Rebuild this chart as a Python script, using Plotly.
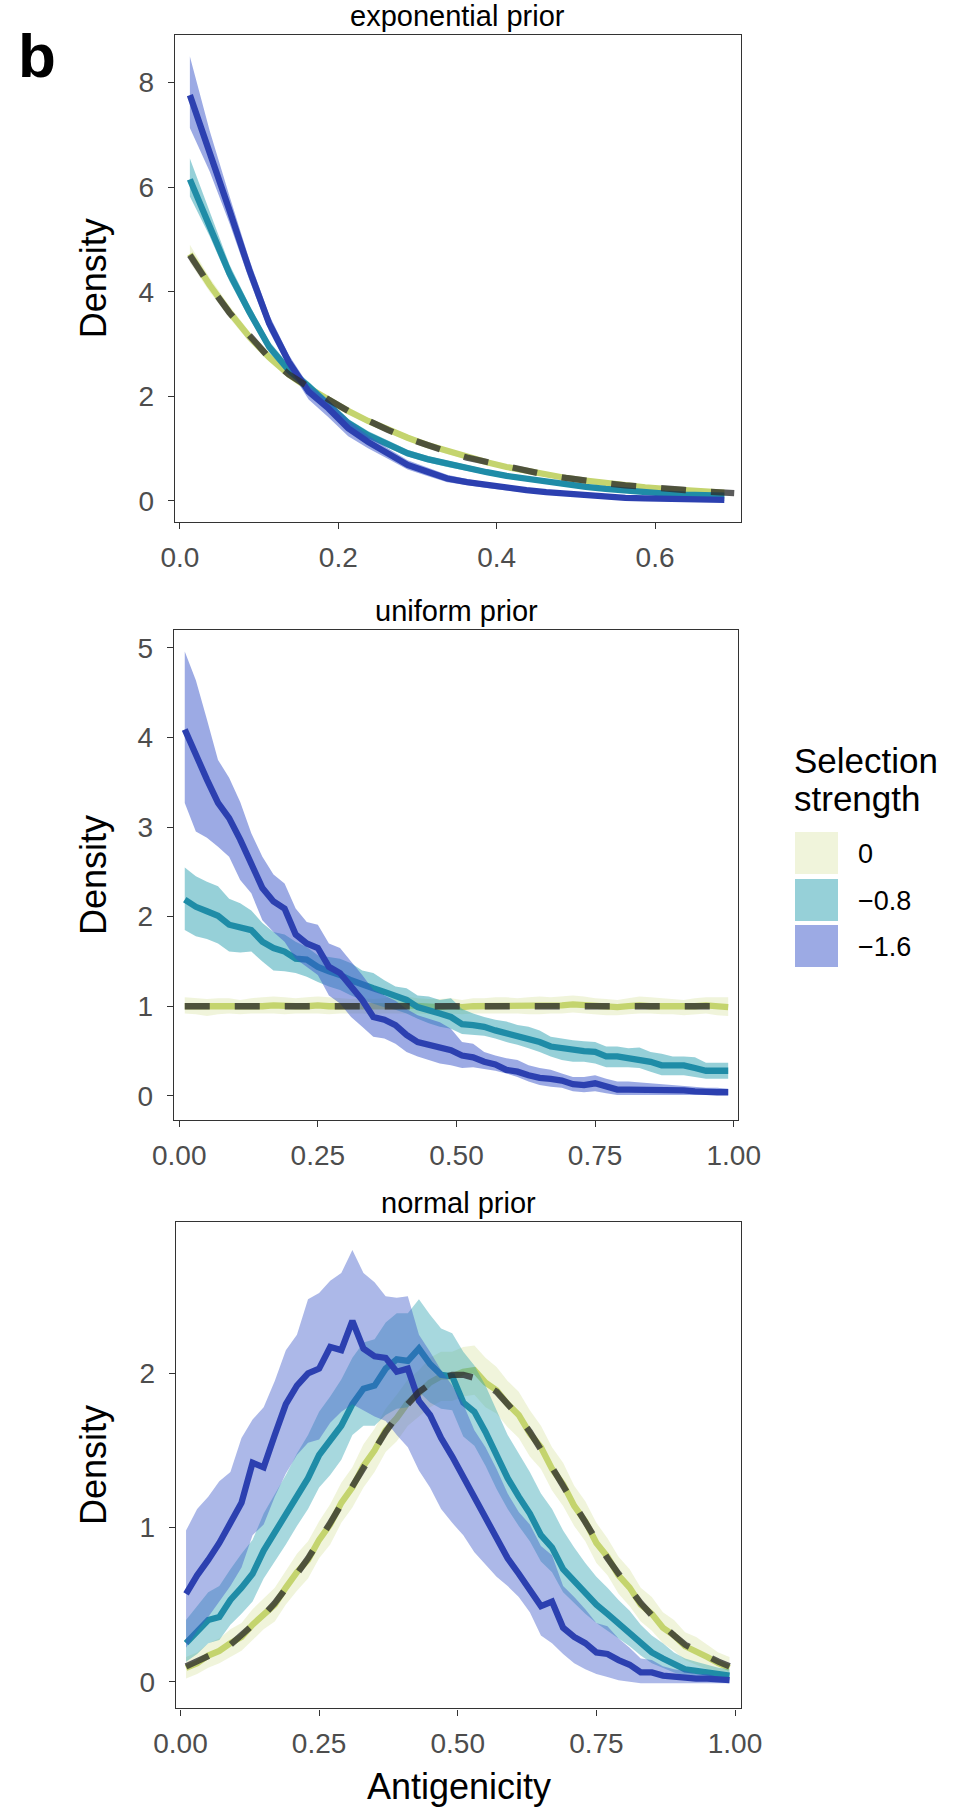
import plotly.graph_objects as go

W, H = 958, 1811
FONT = "Liberation Sans, Arial, Helvetica, sans-serif"

# ---------------- exponential prior ----------------
X_EXP = [0.0125, 0.0375, 0.0625, 0.0875, 0.1125, 0.1375, 0.1625, 0.1875, 0.2125, 0.2375,
         0.2625, 0.2875, 0.3125, 0.3375, 0.3625, 0.3875, 0.4125, 0.4375, 0.4625, 0.4875,
         0.5125, 0.5375, 0.5625, 0.5875, 0.6125, 0.6375, 0.6625, 0.6875]

EXP_S0_MEAN = [4.72, 4.13, 3.61, 3.14, 2.75, 2.42, 2.16, 1.93, 1.72, 1.53, 1.36, 1.21, 1.07, 0.95,
               0.84, 0.74, 0.65, 0.57, 0.50, 0.44, 0.39, 0.34, 0.30, 0.26, 0.23, 0.21, 0.18, 0.16]
EXP_S0_HI = [4.90, 4.27, 3.73, 3.24, 2.84, 2.50, 2.24, 2.00, 1.79, 1.59, 1.42, 1.27, 1.12, 1.00,
             0.89, 0.79, 0.69, 0.61, 0.54, 0.48, 0.43, 0.37, 0.33, 0.29, 0.26, 0.24, 0.21, 0.19]
EXP_S0_LO = [4.56, 4.00, 3.50, 3.04, 2.66, 2.34, 2.08, 1.86, 1.65, 1.47, 1.30, 1.15, 1.02, 0.90,
             0.79, 0.69, 0.61, 0.53, 0.46, 0.40, 0.35, 0.31, 0.27, 0.23, 0.20, 0.18, 0.15, 0.13]

EXP_S08_MEAN = [6.15, 5.28, 4.35, 3.62, 2.95, 2.50, 2.19, 1.84, 1.49, 1.26, 1.09, 0.91, 0.80, 0.71,
                0.62, 0.55, 0.48, 0.42, 0.37, 0.32, 0.27, 0.23, 0.19, 0.16, 0.14, 0.12, 0.11, 0.10]
EXP_S08_HI = [6.55, 5.53, 4.52, 3.75, 3.06, 2.60, 2.28, 1.93, 1.57, 1.34, 1.16, 0.98, 0.86, 0.77,
              0.68, 0.60, 0.53, 0.47, 0.41, 0.36, 0.31, 0.27, 0.22, 0.19, 0.17, 0.15, 0.14, 0.13]
EXP_S08_LO = [5.82, 5.06, 4.20, 3.50, 2.85, 2.41, 2.10, 1.76, 1.41, 1.19, 1.02, 0.85, 0.74, 0.65,
              0.57, 0.50, 0.43, 0.38, 0.33, 0.28, 0.23, 0.20, 0.16, 0.13, 0.11, 0.09, 0.08, 0.07]

EXP_S16_MEAN = [7.76, 6.68, 5.56, 4.42, 3.40, 2.66, 2.09, 1.77, 1.39, 1.13, 0.91, 0.69, 0.56, 0.43,
                0.36, 0.30, 0.25, 0.21, 0.17, 0.14, 0.10, 0.08, 0.06, 0.05, 0.05, 0.04, 0.03, 0.02]
EXP_S16_HI = [8.50, 7.08, 5.83, 4.62, 3.56, 2.79, 2.21, 1.92, 1.54, 1.25, 1.01, 0.78, 0.64, 0.50,
              0.42, 0.35, 0.30, 0.25, 0.21, 0.18, 0.13, 0.11, 0.09, 0.08, 0.07, 0.06, 0.05, 0.04]
EXP_S16_LO = [7.13, 6.30, 5.31, 4.23, 3.25, 2.54, 1.94, 1.60, 1.24, 1.01, 0.81, 0.60, 0.48, 0.36,
              0.30, 0.25, 0.20, 0.17, 0.13, 0.10, 0.07, 0.05, 0.03, 0.02, 0.03, 0.02, 0.01, 0.00]

EXP_PRIOR_X = X_EXP + [0.70]
EXP_PRIOR_Y = [4.70, 4.12, 3.60, 3.15, 2.74, 2.42, 2.17, 1.94, 1.72, 1.53, 1.36, 1.20, 1.06, 0.94,
               0.83, 0.74, 0.65, 0.56, 0.50, 0.44, 0.38, 0.34, 0.30, 0.26, 0.23, 0.21, 0.18, 0.16, 0.15]

# ---------------- uniform / normal priors (shared bins) ----------------
X_BIN = [0.01, 0.03, 0.05, 0.07, 0.09, 0.11, 0.13, 0.15, 0.17, 0.19, 0.21, 0.23, 0.25, 0.27, 0.29,
         0.31, 0.33, 0.35, 0.37, 0.39, 0.41, 0.43, 0.45, 0.47, 0.49, 0.51, 0.53, 0.55, 0.57, 0.59,
         0.61, 0.63, 0.65, 0.67, 0.69, 0.71, 0.73, 0.75, 0.77, 0.79, 0.81, 0.83, 0.85, 0.87, 0.89,
         0.91, 0.93, 0.95, 0.97, 0.99]

UNI_S0_MEAN = [1.00, 1.00, 0.99, 1.00, 1.00, 0.99, 1.00, 1.00, 1.01, 1.00, 1.00, 1.00, 1.01, 1.00, 1.00,
               1.00, 1.00, 0.99, 1.00, 1.00, 1.01, 1.00, 1.00, 0.99, 1.00, 0.99, 1.00, 1.00, 1.00, 1.01,
               1.00, 1.00, 1.00, 1.01, 1.01, 1.02, 1.01, 1.00, 1.00, 0.99, 1.00, 1.01, 1.00, 1.00, 1.00,
               0.99, 1.00, 1.01, 1.00, 0.99]
UNI_S0_HI = [1.10, 1.09, 1.08, 1.09, 1.09, 1.07, 1.09, 1.10, 1.11, 1.10, 1.09, 1.10, 1.11, 1.10, 1.09,
             1.08, 1.09, 1.08, 1.09, 1.10, 1.11, 1.09, 1.08, 1.08, 1.09, 1.07, 1.09, 1.09, 1.10, 1.10,
             1.09, 1.10, 1.11, 1.10, 1.11, 1.12, 1.11, 1.09, 1.08, 1.07, 1.09, 1.11, 1.10, 1.09, 1.08,
             1.07, 1.09, 1.10, 1.10, 1.10]
UNI_S0_LO = [0.92, 0.91, 0.89, 0.91, 0.92, 0.91, 0.92, 0.92, 0.92, 0.91, 0.92, 0.92, 0.92, 0.91, 0.92,
             0.92, 0.92, 0.91, 0.92, 0.92, 0.92, 0.92, 0.91, 0.91, 0.92, 0.91, 0.92, 0.92, 0.92, 0.92,
             0.92, 0.91, 0.91, 0.92, 0.92, 0.93, 0.92, 0.91, 0.90, 0.90, 0.91, 0.92, 0.92, 0.91, 0.91,
             0.90, 0.91, 0.92, 0.90, 0.89]

UNI_S08_MEAN = [2.19, 2.11, 2.06, 2.01, 1.91, 1.88, 1.85, 1.72, 1.65, 1.61, 1.53, 1.52, 1.44, 1.39, 1.35,
                1.29, 1.24, 1.20, 1.16, 1.11, 1.07, 0.99, 0.96, 0.92, 0.88, 0.80, 0.79, 0.77, 0.73, 0.70,
                0.66, 0.64, 0.60, 0.55, 0.53, 0.51, 0.50, 0.49, 0.44, 0.44, 0.42, 0.41, 0.38, 0.34, 0.34,
                0.34, 0.31, 0.28, 0.28, 0.28]
UNI_S08_HI = [2.55, 2.45, 2.39, 2.34, 2.20, 2.15, 2.07, 1.93, 1.83, 1.80, 1.72, 1.66, 1.57, 1.55, 1.53,
              1.48, 1.40, 1.37, 1.29, 1.22, 1.20, 1.12, 1.11, 1.07, 1.09, 0.97, 0.92, 0.88, 0.85, 0.83,
              0.79, 0.77, 0.73, 0.66, 0.64, 0.62, 0.61, 0.60, 0.55, 0.55, 0.53, 0.54, 0.49, 0.47, 0.44,
              0.44, 0.43, 0.37, 0.37, 0.37]
UNI_S08_LO = [1.85, 1.78, 1.75, 1.70, 1.61, 1.60, 1.61, 1.50, 1.40, 1.39, 1.37, 1.33, 1.27, 1.22, 1.18,
              1.12, 1.07, 1.03, 0.99, 0.96, 0.92, 0.86, 0.81, 0.77, 0.75, 0.69, 0.68, 0.67, 0.64, 0.60,
              0.57, 0.53, 0.49, 0.44, 0.40, 0.38, 0.38, 0.36, 0.32, 0.32, 0.32, 0.31, 0.27, 0.23, 0.23,
              0.23, 0.21, 0.19, 0.19, 0.19]

UNI_S16_MEAN = [4.09, 3.79, 3.53, 3.27, 3.10, 2.86, 2.60, 2.32, 2.17, 2.09, 1.80, 1.70, 1.65, 1.44, 1.37,
                1.22, 1.07, 0.88, 0.85, 0.79, 0.68, 0.60, 0.57, 0.53, 0.51, 0.45, 0.43, 0.38, 0.35, 0.29,
                0.27, 0.23, 0.20, 0.19, 0.17, 0.13, 0.12, 0.14, 0.11, 0.07, 0.07, 0.07, 0.07, 0.06, 0.06,
                0.06, 0.05, 0.04, 0.04, 0.04]
UNI_S16_HI = [4.96, 4.64, 4.20, 3.75, 3.55, 3.28, 2.93, 2.67, 2.47, 2.37, 2.09, 1.94, 1.91, 1.70, 1.65,
              1.50, 1.35, 1.18, 1.12, 1.06, 0.97, 0.90, 0.86, 0.82, 0.75, 0.60, 0.58, 0.49, 0.45, 0.42,
              0.40, 0.34, 0.31, 0.29, 0.25, 0.21, 0.21, 0.23, 0.19, 0.16, 0.16, 0.15, 0.14, 0.13, 0.12,
              0.11, 0.10, 0.09, 0.09, 0.08]
UNI_S16_LO = [3.27, 2.95, 2.88, 2.78, 2.67, 2.41, 2.26, 1.96, 1.83, 1.72, 1.53, 1.44, 1.35, 1.12, 1.03,
              0.88, 0.77, 0.66, 0.64, 0.58, 0.49, 0.44, 0.40, 0.36, 0.34, 0.31, 0.32, 0.30, 0.28, 0.25,
              0.21, 0.16, 0.12, 0.10, 0.09, 0.05, 0.04, 0.05, 0.03, 0.01, 0.01, 0.01, 0.01, 0.01, 0.01,
              0.01, 0.01, 0.01, 0.01, 0.01]

UNI_PRIOR_X = [0.01, 0.99]
UNI_PRIOR_Y = [1.0, 1.0]

NOR_S0_MEAN = [0.09, 0.12, 0.17, 0.20, 0.25, 0.29, 0.37, 0.44, 0.50, 0.61, 0.71, 0.79, 0.92, 1.02, 1.16,
               1.26, 1.40, 1.50, 1.63, 1.71, 1.81, 1.87, 1.94, 1.98, 1.98, 2.01, 2.02, 1.94, 1.89, 1.80,
               1.73, 1.61, 1.52, 1.38, 1.28, 1.14, 1.04, 0.90, 0.81, 0.69, 0.61, 0.50, 0.44, 0.35, 0.30,
               0.23, 0.20, 0.16, 0.12, 0.09]
NOR_S0_HI = [0.16, 0.19, 0.25, 0.28, 0.34, 0.38, 0.47, 0.54, 0.61, 0.72, 0.83, 0.91, 1.04, 1.15, 1.29,
             1.39, 1.54, 1.64, 1.77, 1.86, 1.96, 2.02, 2.10, 2.14, 2.14, 2.17, 2.18, 2.10, 2.04, 1.95,
             1.88, 1.76, 1.66, 1.52, 1.42, 1.27, 1.17, 1.03, 0.93, 0.81, 0.73, 0.61, 0.55, 0.45, 0.40,
             0.32, 0.29, 0.24, 0.19, 0.16]
NOR_S0_LO = [0.02, 0.05, 0.09, 0.12, 0.16, 0.20, 0.27, 0.34, 0.39, 0.50, 0.59, 0.67, 0.80, 0.89, 1.03,
             1.13, 1.26, 1.36, 1.49, 1.56, 1.66, 1.72, 1.78, 1.82, 1.82, 1.85, 1.86, 1.78, 1.74, 1.65,
             1.58, 1.46, 1.38, 1.24, 1.14, 1.01, 0.91, 0.77, 0.69, 0.57, 0.49, 0.39, 0.33, 0.25, 0.20,
             0.14, 0.11, 0.08, 0.05, 0.02]

NOR_S08_MEAN = [0.25, 0.32, 0.40, 0.42, 0.53, 0.61, 0.70, 0.85, 0.97, 1.09, 1.21, 1.32, 1.47, 1.56, 1.66,
                1.80, 1.90, 1.92, 2.03, 2.09, 2.08, 2.16, 2.06, 1.99, 1.98, 1.81, 1.75, 1.62, 1.46, 1.32,
                1.20, 1.09, 0.95, 0.87, 0.73, 0.65, 0.57, 0.50, 0.44, 0.38, 0.32, 0.25, 0.19, 0.15, 0.11,
                0.08, 0.07, 0.06, 0.05, 0.04]
NOR_S08_HI = [0.40, 0.49, 0.58, 0.62, 0.73, 0.83, 0.92, 1.09, 1.22, 1.34, 1.48, 1.60, 1.75, 1.85, 1.96,
              2.10, 2.20, 2.22, 2.33, 2.39, 2.39, 2.48, 2.38, 2.29, 2.26, 2.14, 2.05, 1.92, 1.76, 1.60,
              1.48, 1.36, 1.22, 1.12, 0.98, 0.87, 0.77, 0.68, 0.61, 0.53, 0.46, 0.37, 0.30, 0.25, 0.19,
              0.15, 0.13, 0.11, 0.09, 0.08]
NOR_S08_LO = [0.13, 0.18, 0.25, 0.27, 0.37, 0.44, 0.52, 0.67, 0.78, 0.89, 1.01, 1.12, 1.26, 1.34, 1.44,
              1.60, 1.66, 1.66, 1.73, 1.77, 1.78, 1.88, 1.81, 1.77, 1.76, 1.59, 1.53, 1.40, 1.25, 1.12,
              1.01, 0.91, 0.78, 0.71, 0.58, 0.51, 0.44, 0.38, 0.33, 0.28, 0.23, 0.17, 0.12, 0.09, 0.06,
              0.04, 0.03, 0.03, 0.02, 0.01]

NOR_S16_MEAN = [0.57, 0.69, 0.79, 0.90, 1.03, 1.16, 1.42, 1.39, 1.60, 1.80, 1.92, 2.00, 2.03, 2.17, 2.15,
                2.34, 2.16, 2.11, 2.10, 2.01, 2.03, 1.82, 1.73, 1.58, 1.46, 1.33, 1.18, 1.07, 0.94, 0.80,
                0.70, 0.60, 0.49, 0.52, 0.35, 0.29, 0.25, 0.19, 0.18, 0.14, 0.11, 0.06, 0.06, 0.04, 0.03,
                0.03, 0.02, 0.02, 0.01, 0.01]
NOR_S16_HI = [0.98, 1.12, 1.20, 1.30, 1.36, 1.58, 1.70, 1.78, 1.95, 2.15, 2.25, 2.48, 2.52, 2.60, 2.65,
              2.80, 2.65, 2.59, 2.50, 2.49, 2.50, 2.25, 2.14, 2.02, 1.92, 1.80, 1.63, 1.52, 1.38, 1.22,
              1.10, 1.02, 0.88, 0.82, 0.62, 0.55, 0.47, 0.38, 0.36, 0.28, 0.22, 0.15, 0.14, 0.10, 0.08,
              0.07, 0.05, 0.05, 0.03, 0.03]
NOR_S16_LO = [0.22, 0.33, 0.42, 0.52, 0.62, 0.74, 0.95, 1.02, 1.20, 1.35, 1.47, 1.55, 1.57, 1.68, 1.75,
              1.80, 1.76, 1.72, 1.69, 1.60, 1.52, 1.37, 1.26, 1.12, 1.03, 0.95, 0.84, 0.76, 0.68, 0.62,
              0.55, 0.45, 0.30, 0.25, 0.18, 0.12, 0.08, 0.05, 0.03, 0.01, 0.00, -0.01, -0.01, -0.01, -0.01,
              -0.01, -0.01, -0.01, -0.01, -0.01]

NOR_PRIOR_X = X_BIN
NOR_PRIOR_Y = [0.10, 0.13, 0.16, 0.20, 0.24, 0.30, 0.36, 0.43, 0.51, 0.60, 0.70, 0.80, 0.91, 1.03, 1.15,
               1.27, 1.39, 1.51, 1.62, 1.72, 1.80, 1.88, 1.93, 1.97, 1.99, 1.99, 1.97, 1.93, 1.88, 1.80,
               1.72, 1.62, 1.51, 1.39, 1.27, 1.15, 1.03, 0.91, 0.80, 0.70, 0.60, 0.51, 0.43, 0.36, 0.30,
               0.24, 0.20, 0.16, 0.13, 0.10]

LEVELS = ["0", "−0.8", "−1.6"]
LINE_COL = {"0": "#c4d46e", "−0.8": "#1f8ca7", "−1.6": "#2c40b0"}
FILL_RGB = {"0": (196, 212, 110), "−0.8": (45, 161, 177), "−1.6": (57, 85, 201)}
FILL_ALPHA = {"0": 0.25, "−0.8": 0.5, "−1.6": 0.5}
PRIOR_COL = "rgba(45,45,45,0.78)"
LINE_W = 6.3

X_TICKS_EXP = [0, 0.2, 0.4, 0.6]
X_LABELS_EXP = ["0.0", "0.2", "0.4", "0.6"]
X_TICKS_UNIT = [0, 0.25, 0.5, 0.75, 1.0]
X_LABELS_UNIT = ["0.00", "0.25", "0.50", "0.75", "1.00"]

panels = [
    dict(title="exponential prior", x=X_EXP,
         series={"0": (EXP_S0_MEAN, EXP_S0_LO, EXP_S0_HI),
                 "−0.8": (EXP_S08_MEAN, EXP_S08_LO, EXP_S08_HI),
                 "−1.6": (EXP_S16_MEAN, EXP_S16_LO, EXP_S16_HI)},
         prior=(EXP_PRIOR_X, EXP_PRIOR_Y),
         box=(175, 740.7, 35, 521.7), xr=[-0.0063, 0.7082], yr=[-0.396, 8.91],
         xt=(X_TICKS_EXP, X_LABELS_EXP), yt=[0, 2, 4, 6, 8], fade=1.0),
    dict(title="uniform prior", x=X_BIN,
         series={"0": (UNI_S0_MEAN, UNI_S0_LO, UNI_S0_HI),
                 "−0.8": (UNI_S08_MEAN, UNI_S08_LO, UNI_S08_HI),
                 "−1.6": (UNI_S16_MEAN, UNI_S16_LO, UNI_S16_HI)},
         prior=(UNI_PRIOR_X, UNI_PRIOR_Y),
         box=(174, 738, 630, 1120), xr=[-0.0094, 1.0077], yr=[-0.27, 5.20],
         xt=(X_TICKS_UNIT, X_LABELS_UNIT), yt=[0, 1, 2, 3, 4, 5], fade=1.0),
    dict(title="normal prior", x=X_BIN,
         series={"0": (NOR_S0_MEAN, NOR_S0_LO, NOR_S0_HI),
                 "−0.8": (NOR_S08_MEAN, NOR_S08_LO, NOR_S08_HI),
                 "−1.6": (NOR_S16_MEAN, NOR_S16_LO, NOR_S16_HI)},
         prior=(NOR_PRIOR_X, NOR_PRIOR_Y),
         box=(176, 741, 1221.7, 1708.3), xr=[-0.0081, 1.0108], yr=[-0.1725, 2.983],
         xt=(X_TICKS_UNIT, X_LABELS_UNIT), yt=[0, 1, 2], fade=0.84),
]


def px_x(v):
    return v / W


def px_y(v):
    return 1 - v / H


fig = go.Figure()
layout = dict(
    width=W, height=H, margin=dict(l=0, r=0, t=0, b=0, pad=0), autosize=False,
    paper_bgcolor="white", plot_bgcolor="white", showlegend=False,
    font=dict(family=FONT),
)
annotations = []
shapes = []

axis_common = dict(
    showline=True, mirror=True, linecolor="#333333", linewidth=1.4,
    showgrid=False, zeroline=False, ticks="outside", ticklen=6, tickwidth=1.4,
    tickcolor="#333333", tickfont=dict(family=FONT, size=28, color="#4d4d4d"),
    fixedrange=True, automargin=False,
)

for i, p in enumerate(panels, start=1):
    xa = "x" if i == 1 else f"x{i}"
    ya = "y" if i == 1 else f"y{i}"
    left, right, top, bottom = p["box"]
    xs = p["x"]
    for lev in LEVELS:
        mean, lo, hi = p["series"][lev]
        r, g, b = FILL_RGB[lev]
        a = FILL_ALPHA[lev] * (p["fade"] if lev != "0" else 1.0)
        fig.add_trace(go.Scatter(
            x=xs + xs[::-1], y=hi + lo[::-1], xaxis=xa, yaxis=ya,
            mode="lines", fill="toself", fillcolor=f"rgba({r},{g},{b},{a:.3f})",
            line=dict(width=0), hoverinfo="skip"))
        fig.add_trace(go.Scatter(
            x=xs, y=mean, xaxis=xa, yaxis=ya, mode="lines",
            line=dict(color=LINE_COL[lev], width=LINE_W), hoverinfo="skip"))
    px_, py_ = p["prior"]
    fig.add_trace(go.Scatter(
        x=px_, y=py_, xaxis=xa, yaxis=ya, mode="lines",
        line=dict(color=PRIOR_COL, width=LINE_W, dash="25px,25px"), hoverinfo="skip"))

    key_x = "xaxis" if i == 1 else f"xaxis{i}"
    key_y = "yaxis" if i == 1 else f"yaxis{i}"
    layout[key_x] = dict(axis_common, domain=[px_x(left), px_x(right)], range=p["xr"],
                         tickvals=p["xt"][0], ticktext=p["xt"][1], anchor=ya,
                         ticklabelstandoff=4)
    layout[key_y] = dict(axis_common, domain=[px_y(bottom), px_y(top)], range=p["yr"],
                         tickvals=p["yt"], ticktext=[str(v) for v in p["yt"]], anchor=xa,
                         ticklabelstandoff=8)

    # panel title
    annotations.append(dict(text=p["title"], x=px_x((left + right) / 2), y=px_y(top - 19),
                            xref="paper", yref="paper", xanchor="center", yanchor="middle",
                            showarrow=False, font=dict(family=FONT, size=29, color="black")))
    # y axis title
    annotations.append(dict(text="Density", x=px_x(93), y=px_y((top + bottom) / 2),
                            xref="paper", yref="paper", xanchor="center", yanchor="middle",
                            textangle=-90, showarrow=False,
                            font=dict(family=FONT, size=36, color="black")))

# x axis title
annotations.append(dict(text="Antigenicity", x=px_x(458.5), y=px_y(1786),
                        xref="paper", yref="paper", xanchor="center", yanchor="middle",
                        showarrow=False, font=dict(family=FONT, size=36, color="black")))

# panel tag
annotations.append(dict(text="<b>b</b>", x=px_x(16), y=px_y(55),
                        xref="paper", yref="paper", xanchor="left", yanchor="middle",
                        showarrow=False, font=dict(family=FONT, size=62, color="black")))

# legend: title, keys and labels
annotations.append(dict(text="Selection", x=px_x(792), y=px_y(760), xref="paper", yref="paper",
                        xanchor="left", yanchor="middle", showarrow=False,
                        font=dict(family=FONT, size=35, color="black")))
annotations.append(dict(text="strength", x=px_x(792), y=px_y(799), xref="paper", yref="paper",
                        xanchor="left", yanchor="middle", showarrow=False,
                        font=dict(family=FONT, size=35, color="black")))
KEY_ROWS = [(832, 874), (879, 921), (925, 967)]
for lev, (y0, y1) in zip(LEVELS, KEY_ROWS):
    r, g, b = FILL_RGB[lev]
    a = FILL_ALPHA[lev]
    shapes.append(dict(type="rect", xref="paper", yref="paper",
                       x0=px_x(795), x1=px_x(838), y0=px_y(y1), y1=px_y(y0),
                       fillcolor=f"rgba({r},{g},{b},{a})", line=dict(width=0), layer="above"))
    annotations.append(dict(text=lev, x=px_x(856), y=px_y((y0 + y1) / 2 + 1), xref="paper",
                            yref="paper", xanchor="left", yanchor="middle", showarrow=False,
                            font=dict(family=FONT, size=27, color="black")))

layout["annotations"] = annotations
layout["shapes"] = shapes
fig.update_layout(**layout)

fig.write_html("out.html", config={"displayModeBar": False})
